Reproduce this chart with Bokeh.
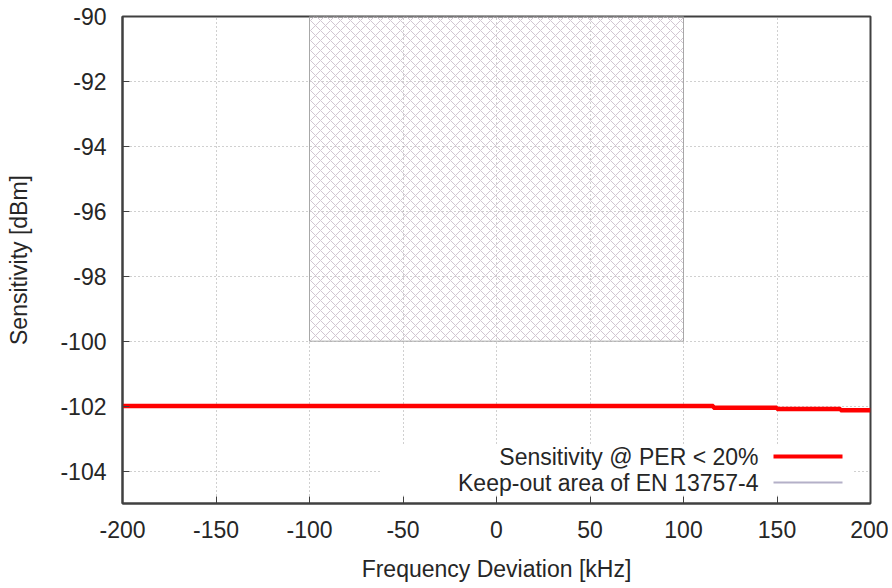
from bokeh.plotting import figure
from bokeh.models import Range1d, Label, BoxAnnotation, FixedTicker
from bokeh.embed import file_html
from bokeh.resources import INLINE

# ---- data ----
freq_khz = [-200, 116, 150, 184, 200]
sens_dbm = [-102.0, -102.05, -102.09, -102.13, -102.13]
keepout_left = [-100]
keepout_right = [100]
keepout_bottom = [-100]
keepout_top = [-90]
x_ticks = [-200, -150, -100, -50, 0, 50, 100, 150, 200]
y_ticks = [-104, -102, -100, -98, -96, -94, -92, -90]
series_names = ["Sensitivity @ PER < 20%", "Keep-out area of EN 13757-4"]

FONT = "Liberation Sans"
TXT = "#262626"
FS = "23px"

p = figure(width=888, height=587, output_backend="svg", toolbar_location=None,
           x_range=Range1d(-200, 200), y_range=Range1d(-105, -90),
           min_border_left=122, min_border_right=18, min_border_top=16, min_border_bottom=84)
p.background_fill_color = "white"
p.border_fill_color = "white"
p.outline_line_color = "#404040"
p.outline_line_width = 2

# grid
for g in (p.xgrid, p.ygrid):
    g.grid_line_color = "#a0a0a0"
    g.grid_line_dash = "1 3"
    g.grid_line_width = 1
p.xaxis.ticker = FixedTicker(ticks=x_ticks)
p.yaxis.ticker = FixedTicker(ticks=y_ticks)
p.xaxis.major_label_overrides = {t: str(t) for t in x_ticks}
p.yaxis.major_label_overrides = {t: str(t) for t in y_ticks}

for ax in (p.xaxis[0], p.yaxis[0]):
    ax.major_tick_in = 7
    ax.major_tick_out = 0
    ax.minor_tick_line_color = None
    ax.axis_line_color = "#404040"
    ax.axis_line_width = 2
    ax.major_tick_line_color = "#404040"
    ax.major_label_text_font = FONT
    ax.major_label_text_font_size = FS
    ax.major_label_text_color = TXT
    ax.axis_label_text_font = FONT
    ax.axis_label_text_font_size = FS
    ax.axis_label_text_font_style = "normal"
    ax.axis_label_text_color = TXT
p.xaxis.axis_label = "Frequency Deviation [kHz]"
p.yaxis.axis_label = "Sensitivity [dBm]"
p.xaxis.major_label_standoff = 17
p.yaxis.major_label_standoff = 16
p.xaxis.axis_label_standoff = 15
p.yaxis.axis_label_standoff = 25

# keep-out area
p.quad(left=keepout_left, right=keepout_right, bottom=keepout_bottom, top=keepout_top,
       fill_color=None, line_color="#a8a8a8", line_width=1,
       hatch_pattern="diagonal_cross", hatch_scale=10, hatch_color="#d2c6d2", hatch_weight=1)

# sensitivity
p.step(x=freq_khz, y=sens_dbm, mode="after", line_color="#ff0000", line_width=4.5)

# legend (gnuplot style: text then sample)
p.add_layout(BoxAnnotation(left=258, right=731, bottom=8, top=58,
                           left_units="screen", right_units="screen",
                           bottom_units="screen", top_units="screen",
                           fill_color="white", fill_alpha=1, line_color=None, level="annotation"))
for i, (name, col, th) in enumerate(zip(series_names, ["#ff0000", "#b4b0c8"], [4, 2])):
    yc = 47 - 26 * i
    p.add_layout(Label(x=636, y=yc, x_units="screen", y_units="screen", text=name,
                       text_align="right", text_baseline="middle",
                       text_font=FONT, text_font_size=FS, text_color=TXT))
    p.add_layout(BoxAnnotation(left=651, right=720, bottom=yc - th / 2, top=yc + th / 2,
                               left_units="screen", right_units="screen",
                               bottom_units="screen", top_units="screen",
                               fill_color=col, fill_alpha=1, line_color=None))

open("out.html", "w").write(file_html(p, INLINE))
